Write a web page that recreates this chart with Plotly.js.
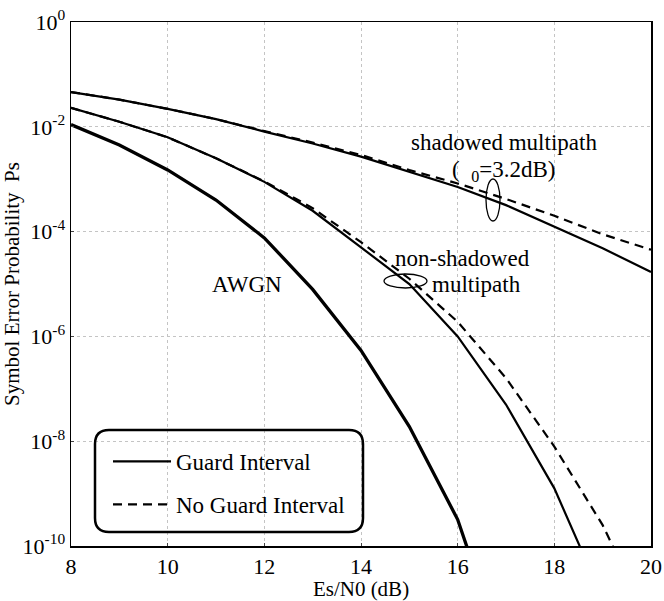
<!DOCTYPE html>
<html>
<head>
<meta charset="utf-8">
<script src="https://cdn.plot.ly/plotly-3.0.1.min.js"></script>
<style>html,body{margin:0;padding:0;background:#fff;}#chart{width:664px;height:601px;}</style>
</head>
<body>
<div id="chart"></div>
<script>
// Es/N0 (dB)
const esn0 = [8, 9, 10, 11, 12, 13, 14, 15, 16, 17, 18, 19, 20];

// AWGN (guard interval)
const awgnX = [8, 9, 10, 11, 12, 13, 14, 15, 16, 17];
const awgnGI = [1.1e-2, 4.5e-3, 1.5e-3, 4.0e-4, 7.6e-5, 7.9e-6, 5.4e-7, 1.9e-8, 3.2e-10, 6e-13];

// Non-shadowed multipath
const nonShadX = [8, 9, 10, 11, 12, 13, 14, 15, 16, 17, 18, 19];
const nonShadGI = [2.3e-2, 1.25e-2, 6.3e-3, 2.5e-3, 8.9e-4, 2.5e-4, 5.0e-5, 1.0e-5, 1.0e-6, 5.0e-8, 1.26e-9, 1.0e-11];
const nonShadNGI = [2.3e-2, 1.25e-2, 6.3e-3, 2.5e-3, 9.1e-4, 2.8e-4, 6.3e-5, 1.26e-5, 1.9e-6, 1.6e-7, 7.9e-9, 2.5e-10, 3e-12];

// Shadowed multipath (sigma0 = 3.2 dB)
const shadGI = [4.6e-2, 3.3e-2, 2.2e-2, 1.4e-2, 8.1e-3, 4.8e-3, 2.7e-3, 1.4e-3, 7.1e-4, 3.2e-4, 1.26e-4, 4.8e-5, 1.7e-5];
const shadNGI = [4.6e-2, 3.3e-2, 2.2e-2, 1.4e-2, 8.3e-3, 5.0e-3, 2.9e-3, 1.5e-3, 8.3e-4, 4.2e-4, 2.0e-4, 8.9e-5, 4.5e-5];

// Tick labels
const yTickVals = [1, 1e-2, 1e-4, 1e-6, 1e-8, 1e-10];
const yTickText = ['10<sup>0</sup>', '10<sup>-2</sup>', '10<sup>-4</sup>', '10<sup>-6</sup>', '10<sup>-8</sup>', '10<sup>-10</sup>'];
const xTickVals = [8, 10, 12, 14, 16, 18, 20];

const FONT = 'Liberation Serif, Times New Roman, serif';
const DASH = '9px,6px';

const traces = [
  {x: esn0, y: shadGI, mode: 'lines', name: 'Guard Interval', legendgroup: 'gi', showlegend: true,
   line: {color: '#000', width: 2.2}},
  {x: esn0, y: shadNGI, mode: 'lines', name: 'No Guard Interval', legendgroup: 'ngi', showlegend: true,
   line: {color: '#000', width: 2.2, dash: DASH}},
  {x: nonShadX, y: nonShadGI, mode: 'lines', name: 'Guard Interval', legendgroup: 'gi', showlegend: false,
   line: {color: '#000', width: 2.2}},
  {x: esn0, y: nonShadNGI, mode: 'lines', name: 'No Guard Interval', legendgroup: 'ngi', showlegend: false,
   line: {color: '#000', width: 2.2, dash: DASH}},
  {x: awgnX, y: awgnGI, mode: 'lines', name: 'Guard Interval', legendgroup: 'gi', showlegend: false,
   line: {color: '#000', width: 3.3}}
];

function px2x(p){ return (p - 71) / 580; }
function px2y(p){ return (546 - p) / 524; }

// rounded legend frame in paper coords
const lx0 = px2x(95), lx1 = px2x(363), ly0 = px2y(532), ly1 = px2y(430);
const rx = 14/580, ry = 14/524;
const framePath = `M ${lx0+rx},${ly1} L ${lx1-rx},${ly1} Q ${lx1},${ly1} ${lx1},${ly1-ry} L ${lx1},${ly0+ry} Q ${lx1},${ly0} ${lx1-rx},${ly0} L ${lx0+rx},${ly0} Q ${lx0},${ly0} ${lx0},${ly0+ry} L ${lx0},${ly1-ry} Q ${lx0},${ly1} ${lx0+rx},${ly1} Z`;

function note(text, cx, cy){
  return {xref: 'paper', yref: 'paper', x: px2x(cx), y: px2y(cy), xanchor: 'center', yanchor: 'middle',
          text: text, showarrow: false, font: {family: FONT, size: 23, color: '#000'}};
}

const layout = {
  width: 664, height: 601,
  margin: {l: 71, r: 13, t: 22, b: 55},
  paper_bgcolor: '#fff', plot_bgcolor: '#fff',
  font: {family: FONT, size: 21, color: '#000'},
  showlegend: true,
  legend: {x: px2x(108), y: px2y(440), xanchor: 'left', yanchor: 'top',
           bgcolor: 'rgba(0,0,0,0)', borderwidth: 0, tracegroupgap: 10, itemwidth: 58,
           font: {family: FONT, size: 23, color: '#000'}},
  xaxis: {range: [8, 20], tickvals: xTickVals, ticks: 'inside', ticklen: 3,
          showline: true, linecolor: '#000', linewidth: 1.5, mirror: true,
          showgrid: true, gridcolor: '#c4c4c4', griddash: 'dot', gridwidth: 1,
          zeroline: false, tickfont: {family: FONT, size: 22},
          title: {text: 'Es/N0 (dB)', font: {family: FONT, size: 21}, standoff: 2}},
  yaxis: {type: 'log', range: [-10, 0], tickvals: yTickVals, ticktext: yTickText,
          ticks: 'inside', ticklen: 3,
          showline: true, linecolor: '#000', linewidth: 1.5, mirror: true,
          showgrid: true, gridcolor: '#c4c4c4', griddash: 'dot', gridwidth: 1,
          zeroline: false, tickfont: {family: FONT, size: 22},
          title: {text: 'Symbol Error Probability  Ps', font: {family: FONT, size: 21}, standoff: 4}},
  shapes: [
    {type: 'path', xref: 'paper', yref: 'paper', path: framePath, line: {color: '#000', width: 2.5}},
    {type: 'circle', xref: 'paper', yref: 'paper', x0: px2x(486), x1: px2x(500), y0: px2y(221), y1: px2y(179),
     line: {color: '#000', width: 1.3}},
    {type: 'circle', xref: 'paper', yref: 'paper', x0: px2x(384), x1: px2x(427), y0: px2y(288), y1: px2y(274),
     line: {color: '#000', width: 1.3}}
  ],
  annotations: [
    note('shadowed multipath', 504, 142),
    note('(  <sub>0</sub>=3.2dB)', 503, 171),
    note('non-shadowed', 462, 258),
    note('multipath', 476, 284),
    note('AWGN', 247, 284)
  ]
};

Plotly.newPlot('chart', traces, layout, {staticPlot: true, displayModeBar: false});
</script>
</body>
</html>
